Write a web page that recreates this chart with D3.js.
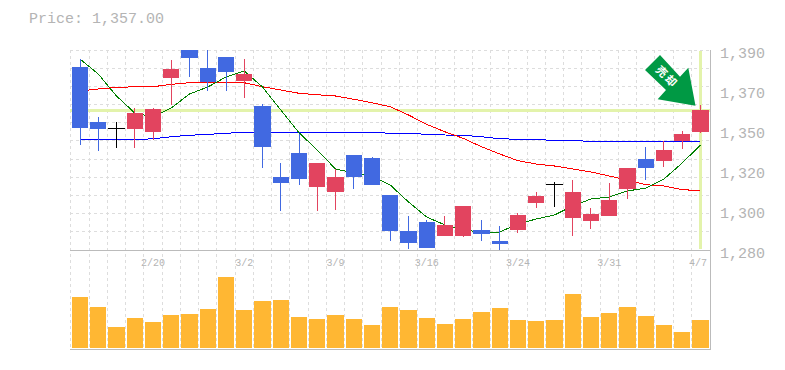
<!DOCTYPE html>
<html>
<head>
<meta charset="utf-8">
<script src="https://d3js.org/d3.v7.min.js"></script>
<style>
    html, body { margin: 0; padding: 0; background: #fff; }
    svg { display: block; }
    text { font-family: "Liberation Mono", monospace; fill: #b4b4b4; }
</style>
</head>
<body>
<div id="chart-area"></div>
<script>
// one entry per trading day
var opens = [1380.65,1350.4,1346.95,1346.55,1344.9,1374.6,1390,1380.1,1386.15,1372.95,1359.2,1320.15,1333.35,1314.65,1311.9,1332.25,1330.6,1310.25,1290.45,1295.4,1287.7,1287.7,1291,1284.95,1291,1305.85,1316.3,1297.6,1295.95,1298.7,1313.55,1330.05,1328.95,1339.95,1344.9];
var closes = [1347.1,1346.55,1346.95,1355.35,1357.55,1379.55,1385.6,1372.4,1377.9,1376.8,1336.65,1316.85,1319.05,1327.85,1320.15,1320.15,1315.75,1290.45,1283.85,1281.1,1293.75,1304.2,1288.8,1283.3,1299.25,1309.7,1316.3,1311.9,1299.8,1307.5,1325.1,1325.1,1335,1343.8,1357];
var highs = [1384.9,1353.15,1350.4,1358.1,1358.1,1384.5,1390,1390,1386.15,1385.05,1360.3,1327.85,1343.8,1327.85,1324.55,1332.25,1331.15,1310.25,1298.7,1296.5,1298.7,1304.2,1296.5,1293.2,1300.35,1311.9,1317.4,1318.5,1303.1,1316.85,1325.1,1336.65,1339.95,1345.45,1359.75];
var lows = [1337.75,1334.45,1336.1,1336.1,1340.5,1359.75,1375.15,1367.45,1367.45,1363.6,1325.1,1301.45,1315.75,1301.45,1302,1313.55,1315.75,1284.95,1280.55,1281.1,1287.7,1287.15,1284.95,1280,1289.35,1303.1,1303.65,1287.7,1291.55,1298.7,1308.05,1318.5,1325.65,1335.55,1344.35];
var volumes = [51,41,21,30,26,33,34,39,71,38,47,48,31,29,33,29,23,41,38,30,24,29,36,40,28,27,28,54,31,35,41,32,23,16,28];

var maShort = [1385.05,1376.8,1364.7,1355.35,1353.15,1358.1,1365.8,1369.65,1375.15,1378.45,1369.65,1357,1344.5,1335,1324.55,1322.35,1320.7,1315.75,1306.4,1298.15,1293.75,1291,1289.9,1289.9,1294.3,1297.05,1299.25,1304.2,1308.05,1309.15,1312.45,1314.1,1319.05,1327.85,1337.75];
var maMid = [1367.45,1368.55,1369.4,1369.8,1369.8,1371.1,1372,1372,1372.2,1372,1369.8,1368,1366.2,1365.4,1364.7,1362.9,1361,1358.8,1354.25,1349.1,1345,1341.4,1336.8,1332.8,1329.1,1327.3,1326.2,1324.55,1322.9,1320.7,1318.5,1315.9,1315.2,1313.2,1312.6];
var maLong = [1340.65,1340.65,1340.65,1340.65,1341.2,1342.3,1343.1,1343.6,1344.2,1344.7,1344.7,1344.7,1344.7,1344.7,1344.7,1344.7,1344.7,1344.2,1344.2,1343.6,1343.25,1343.1,1342.3,1341.2,1340.9,1340.65,1340.35,1340.35,1339.6,1339.6,1339.6,1339.6,1339.6,1339.6,1339.8];

var dateTicks = [[4,"2/20"],[9,"3/2"],[14,"3/9"],[19,"3/16"],[24,"3/24"],[29,"3/31"],[34,"4/7"]];
var priceLabels = ["1,390","1,370","1,350","1,320","1,300","1,280"];
var gridPrices = d3.range(1280, 1391, 10);
var lastPrice = 1357;

var svg = d3.select("#chart-area").append("svg").attr("width", 785).attr("height", 370);

var x = d3.scaleBand().domain(d3.range(opens.length)).range([70.9, 709.6]).paddingInner(0.12).paddingOuter(0.06);
var y = d3.scaleLinear().domain([1280, 1390]).range([250, 50]);
var yVol = d3.scaleLinear().domain([0, 98]).range([348, 250]);
var cx = function (i) { return x(i) + x.bandwidth() / 2; };

// clip so candles that run off the top stop at the chart edge
svg.append("defs").append("clipPath").attr("id", "plot")
    .append("rect").attr("x", 70).attr("y", 50).attr("width", 640).attr("height", 200);

//grid
var grid = svg.append("g").attr("stroke", "#ddd").attr("stroke-dasharray", "3,3").attr("shape-rendering", "crispEdges");
d3.range(opens.length).forEach(function (i) {
    grid.append("line").attr("x1", cx(i) - x.step() / 2).attr("x2", cx(i) - x.step() / 2).attr("y1", 50).attr("y2", 349);
});
gridPrices.forEach(function (p) {
    grid.append("line").attr("x1", 70).attr("x2", 710).attr("y1", y(p)).attr("y2", y(p));
});

//last price markers
var last = opens.length - 1;
svg.append("line").attr("x1", 70).attr("x2", 710).attr("y1", y(lastPrice) + 0.5).attr("y2", y(lastPrice) + 0.5)
    .attr("stroke", "#e3f3ab").attr("stroke-width", 3).attr("shape-rendering", "crispEdges");
svg.append("line").attr("x1", cx(last)).attr("x2", cx(last)).attr("y1", 51).attr("y2", 249)
    .attr("stroke", "#e3f3ab").attr("stroke-width", 3).attr("shape-rendering", "crispEdges");

//moving averages
var maLine = d3.line().x(function (d, i) { return cx(i); }).y(function (d) { return y(d); });
[[maLong, "#0000ff"], [maMid, "#ff0000"], [maShort, "#008000"]].forEach(function (m) {
    svg.append("path").attr("d", maLine(m[0])).attr("fill", "none")
        .attr("stroke", m[1]).attr("stroke-width", 1).attr("shape-rendering", "crispEdges");
});

//candles
var candleColor = function (i) {
    if (opens[i] === closes[i]) return "#000";
    return closes[i] > opens[i] ? "#e2445f" : "#4169e1";
};
var candles = svg.append("g").attr("clip-path", "url(#plot)").attr("shape-rendering", "crispEdges");
d3.range(opens.length).forEach(function (i) {
    candles.append("line").attr("x1", cx(i)).attr("x2", cx(i))
        .attr("y1", y(highs[i])).attr("y2", y(lows[i]))
        .attr("stroke", candleColor(i));
    var top = y(Math.max(opens[i], closes[i]));
    var h = y(Math.min(opens[i], closes[i])) - top;
    candles.append("rect").attr("x", x(i)).attr("y", top)
        .attr("width", x.bandwidth()).attr("height", Math.max(h, 1))
        .attr("fill", candleColor(i));
});

//volume
svg.selectAll(".vol").data(volumes).enter().append("rect").attr("class", "vol")
    .attr("x", function (d, i) { return x(i); })
    .attr("y", function (d) { return yVol(d); })
    .attr("width", x.bandwidth())
    .attr("height", function (d) { return yVol(0) - yVol(d); })
    .attr("fill", "#ffb733")
    .attr("shape-rendering", "crispEdges");

//frame
var frame = svg.append("g").attr("stroke", "#bbb").attr("shape-rendering", "crispEdges");
frame.append("line").attr("x1", 70).attr("x2", 711).attr("y1", 250).attr("y2", 250);
frame.append("line").attr("x1", 70).attr("x2", 711).attr("y1", 349.5).attr("y2", 349.5);
frame.append("line").attr("x1", 710.5).attr("x2", 710.5).attr("y1", 50).attr("y2", 350);

//labels
var yLabel = d3.scalePoint().domain(priceLabels).range([53, 253]);
svg.selectAll(".plabel").data(priceLabels).enter().append("text").attr("class", "plabel")
    .attr("x", 720).attr("y", function (d) { return yLabel(d) + 5; })
    .attr("font-size", 15).text(function (d) { return d; });
svg.selectAll(".dlabel").data(dateTicks).enter().append("text").attr("class", "dlabel")
    .attr("x", function (d) { return Math.min(cx(d[0]), 698); }).attr("y", 266)
    .attr("text-anchor", "middle").attr("font-size", 10).text(function (d) { return d[1]; });
svg.append("text").attr("x", 29).attr("y", 23).attr("font-size", 15)
    .text("Price: " + d3.format(",.2f")(lastPrice));

//arrow
var arrowShape = [[660,55],[645,70],[666,90],[657.7,99.3],[695.5,105.7],[688.3,67.7],[680,76.7]];
svg.append("polygon").attr("points", arrowShape.join(" ")).attr("fill", "#009944");
svg.append("text").attr("transform", "translate(667,77) rotate(45)")
    .attr("text-anchor", "middle").attr("dy", "0.36em")
    .attr("letter-spacing", 2).attr("font-size", 11).attr("font-weight", "bold")
    .style("font-family", "'Noto Sans CJK JP'").style("fill", "#fff")
    .text("売却");
</script>
</body>
</html>
